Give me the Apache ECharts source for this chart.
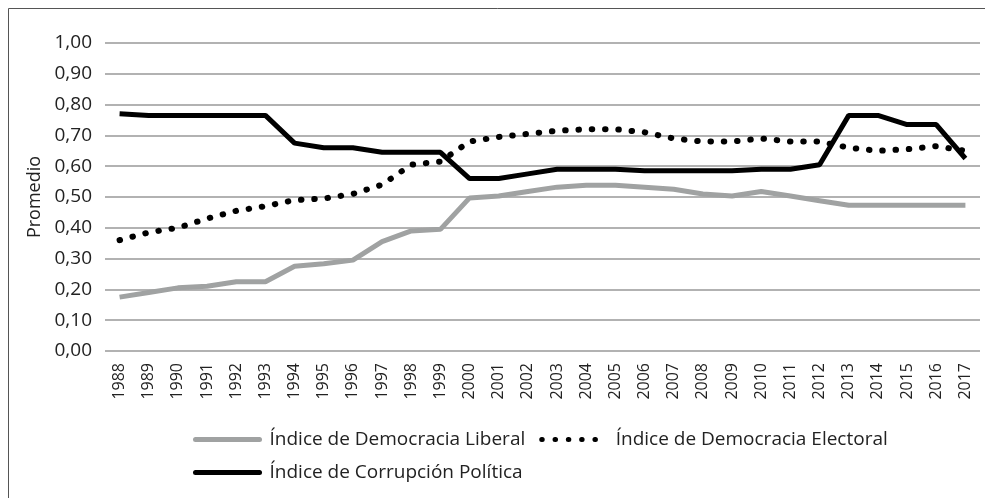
<!DOCTYPE html>
<html>
<head>
<meta charset="utf-8">
<title>Promedio</title>
<script src="https://cdn.jsdelivr.net/npm/echarts@6/dist/echarts.min.js"></script>
<style>
	html, body { margin: 0; padding: 0; background: #fff; }
	#chart { width: 985px; height: 498px; }
</style>
</head>
<body>
<div id="chart"></div>
<script>
	// años
	var years = ['1988', '1989', '1990', '1991', '1992', '1993', '1994', '1995', '1996', '1997',
		'1998', '1999', '2000', '2001', '2002', '2003', '2004', '2005', '2006', '2007',
		'2008', '2009', '2010', '2011', '2012', '2013', '2014', '2015', '2016', '2017'];
	var liberal = [0.175, 0.19, 0.205, 0.21, 0.225, 0.225, 0.275, 0.283, 0.295, 0.355,
		0.39, 0.395, 0.497, 0.503, 0.518, 0.532, 0.538, 0.538, 0.532, 0.525,
		0.51, 0.503, 0.518, 0.503, 0.488, 0.473, 0.473, 0.473, 0.473, 0.473];
	var electoral = [0.36, 0.385, 0.40, 0.43, 0.455, 0.47, 0.49, 0.495, 0.51, 0.54,
		0.605, 0.615, 0.68, 0.695, 0.705, 0.715, 0.72, 0.72, 0.71, 0.69,
		0.68, 0.68, 0.69, 0.68, 0.68, 0.66, 0.65, 0.655, 0.665, 0.65];
	var corrupcion = [0.77, 0.765, 0.765, 0.765, 0.765, 0.765, 0.675, 0.66, 0.66, 0.645,
		0.645, 0.645, 0.56, 0.56, 0.575, 0.59, 0.59, 0.59, 0.585, 0.585,
		0.585, 0.585, 0.59, 0.59, 0.605, 0.765, 0.765, 0.735, 0.735, 0.625];
	var seriesNames = ['Índice de Democracia Liberal', 'Índice de Democracia Electoral', 'Índice de Corrupción Política'];

	var font = '"Open Sans", "Noto Sans", sans-serif';
	var myChart = echarts.init(document.getElementById('chart'));
	var option = {
		animation: false,
		textStyle: { fontFamily: font },
		//marco exterior
		graphic: [{
			type: 'rect',
			shape: { x: 8.5, y: 8.5, width: 990, height: 500 },
			style: { fill: 'none', stroke: '#555', lineWidth: 1 }
		}],
		legend: {
			left: 188,
			top: 425,
			width: 720,
			itemWidth: 64,
			itemHeight: 22,
			itemGap: 14,
			itemStyle: { opacity: 0 }, //sin símbolo en la leyenda
			lineStyle: { width: 5, cap: 'round' }, //grosor de la línea de la leyenda
			textStyle: { color: '#222', fontSize: 19, fontFamily: font, padding: [0, 0, 0, 5] },
			data: seriesNames
		},
		grid: {
			left: 105,
			right: 5,
			top: 43,
			bottom: 147
		},
		xAxis: {
			type: 'category',
			data: years,
			axisLine: { show: false },
			axisTick: { show: false },
			axisLabel: {
				rotate: 90,
				color: '#222',
				fontSize: 16,
				margin: 12,
				interval: 0
			}
		},
		yAxis: {
			type: 'value',
			min: 0,
			max: 1,
			interval: 0.1,
			name: 'Promedio',
			nameLocation: 'middle',
			nameGap: 60,
			nameTextStyle: { color: '#222', fontSize: 18 },
			axisLine: { show: false },
			axisTick: { show: false },
			axisLabel: {
				color: '#222',
				fontSize: 19,
				margin: 13,
				formatter: function (v) { return v.toFixed(2).replace('.', ','); }
			},
			splitLine: { lineStyle: { color: '#999', width: 1.5 } }
		},
		series: [
			{
				name: seriesNames[0],
				type: 'line',
				data: liberal,
				symbol: 'none',
				lineStyle: { color: '#a0a2a2', width: 5 },
				itemStyle: { color: '#a0a2a2' }
			},
			{
				name: seriesNames[1],
				type: 'line',
				data: electoral,
				symbol: 'none',
				lineStyle: { color: '#000', width: 6, type: [0.5, 12.8], cap: 'round' },
				itemStyle: { color: '#000' }
			},
			{
				name: seriesNames[2],
				type: 'line',
				data: corrupcion,
				symbol: 'none',
				lineStyle: { color: '#000', width: 5 },
				itemStyle: { color: '#000' }
			}
		]
	};
	myChart.setOption(option);
</script>
</body>
</html>
